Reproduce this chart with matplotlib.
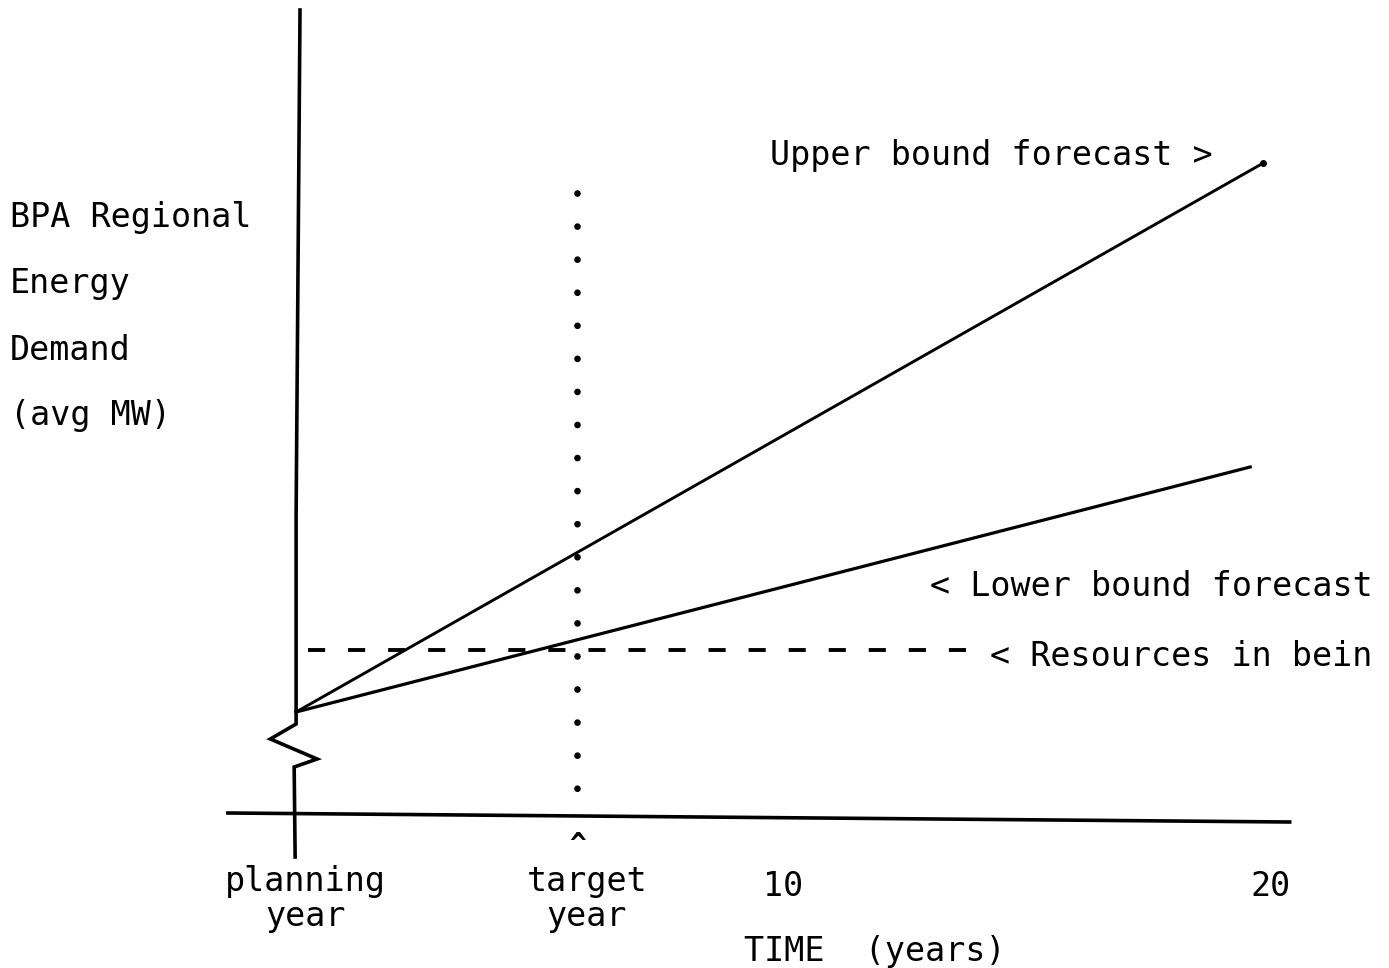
import matplotlib
matplotlib.use("Agg")
from matplotlib import pyplot as plt

# x in years after the planning year, y in arbitrary demand units (0 = time axis)
planning_year = 0.0
target_year = 5.77
tick_years = [10, 20]

upper_x = [0.0, 19.86]
upper_y = [10.3, 65.2]
lower_x = [0.0, 19.59]
lower_y = [10.3, 34.8]
resources_x = [0.25, 13.85]
resources_y = [16.5, 16.5]

# vertical demand axis with a broken (zigzag) section near the bottom
vaxis_x = [0.08, 0.0, 0.0, -0.53, 0.43, -0.04, -0.02]
vaxis_y = [80.5, 30.0, 9.1, 7.6, 5.6, 4.8, -4.2]
# time axis (slightly tilted in the original scan)
haxis_x = [-1.40, 20.4]
haxis_y = [0.2, -0.7]

dots_x = [target_year, target_year]
dots_y = [62.2, 2.0]

ylabel_lines = ["BPA Regional", "Energy", "Demand", "(avg MW)"]

FONT = "DejaVu Sans Mono"
FS = 24

fig = plt.figure(figsize=(13.89, 9.68), dpi=100)
ax = fig.add_axes([0, 0, 1, 1])
ax.set_xlim(-6.08, 22.44)
ax.set_ylim(-15.3, 81.5)
ax.axis("off")

ax.plot(vaxis_x, vaxis_y, color="black", lw=2.6, solid_joinstyle="miter")
ax.plot(haxis_x, haxis_y, color="black", lw=2.6)
ax.plot(upper_x, upper_y, color="black", lw=2.1)
ax.plot(upper_x[-1:], upper_y[-1:], "o", color="black", ms=4)
ax.plot(lower_x, lower_y, color="black", lw=2.3)
ax.plot(resources_x, resources_y, color="black", lw=2.8,
        linestyle=(0, (4.4, 5.9)))
ax.plot(dots_x, dots_y, color="black", lw=4.8,
        linestyle=(0, (0.01, 4.95)), dash_capstyle="round")

# y label
for i, line in enumerate(ylabel_lines):
    ax.text(0.007, 1 - (218 + 66 * i) / 968, line, transform=ax.transAxes,
            fontsize=FS, family=FONT, ha="left", va="center")

# line annotations (the original page cuts the last one off at "bein")
ax.text(770 / 1389, 1 - 155 / 968, "Upper bound forecast >", transform=ax.transAxes,
        fontsize=FS, family=FONT, ha="left", va="center")
ax.text(930 / 1389, 1 - 587 / 968, "< Lower bound forecast", transform=ax.transAxes,
        fontsize=FS, family=FONT, ha="left", va="center")
ax.text(990 / 1389, 1 - 656 / 968, "< Resources in bein", transform=ax.transAxes,
        fontsize=FS, family=FONT, ha="left", va="center")

# tick labels on the time axis
ax.text(planning_year + 0.2, -8.4, "planning\nyear", fontsize=FS, family=FONT,
        ha="center", va="center", linespacing=1.05)
ax.text(target_year + 0.2, -8.4, "target\nyear", fontsize=FS, family=FONT,
        ha="center", va="center", linespacing=1.05)
ax.text(target_year, -3.0, "^", fontsize=20, family=FONT, fontweight="bold",
        ha="center", va="center")
for yr in tick_years:
    ax.text(yr, -7.2, str(yr), fontsize=FS, family=FONT, ha="center", va="center")
ax.text(875 / 1389, 1 - 951 / 968, "TIME  (years)", transform=ax.transAxes,
        fontsize=FS, family=FONT, ha="center", va="center")

fig.savefig("out.png", dpi=100)
